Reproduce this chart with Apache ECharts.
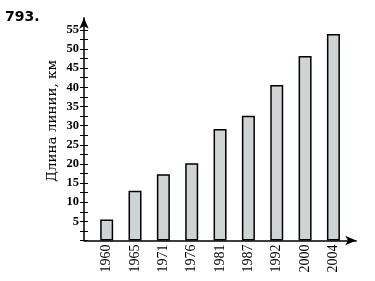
<!DOCTYPE html>
<html>
<head>
<meta charset="utf-8">
<script src="https://cdn.jsdelivr.net/npm/echarts@6/dist/echarts.min.js"></script>
<style>html,body{margin:0;padding:0;background:#fff}#c{width:375px;height:281px}</style>
</head>
<body>
<div id="c"></div>
<script>
var years = ['1960','1965','1971','1976','1981','1987','1992','2000','2004'];
var lengths = [5.5, 13.0, 17.3, 20.2, 29.1, 32.6, 40.6, 48.2, 53.9];
var yTitle = 'Длина линии, км';
var problemNo = '793.';

var chart = echarts.init(document.getElementById('c'), null, {renderer: 'canvas'});
var serif = 'Liberation Serif';
chart.setOption({
  animation: false,
  backgroundColor: '#fff',
  grid: [
    {left: 84, top: 17.8, right: 18.8, bottom: 40.5},
    {left: 92.5, top: 29.85, right: 27.4, bottom: 40.5}
  ],
  xAxis: [
    {gridIndex: 0, type: 'value', min: 0, max: 1,
     axisLine: {show: true, onZero: false, symbol: ['none', 'arrow'], symbolSize: [7, 11], lineStyle: {color: '#000', width: 1.5}},
     axisTick: {show: false}, axisLabel: {show: false}, splitLine: {show: false}},
    {gridIndex: 1, type: 'category', data: years,
     axisLine: {show: false}, axisTick: {show: false}, splitLine: {show: false},
     axisLabel: {rotate: 90, margin: 4, color: '#000', fontFamily: serif, fontSize: 14}}
  ],
  yAxis: [
    {gridIndex: 0, type: 'value', min: 0, max: 1,
     axisLine: {show: true, onZero: false, symbol: ['none', 'arrow'], symbolSize: [7, 11], lineStyle: {color: '#000', width: 1.5}},
     axisTick: {show: false}, axisLabel: {show: false}, splitLine: {show: false}},
    {gridIndex: 1, type: 'value', min: 0, max: 55, interval: 2.5, offset: 8.5, position: 'left',
     axisLine: {show: false}, splitLine: {show: false},
     axisTick: {show: true, length: 4, lineStyle: {color: '#000', width: 1}},
     axisLabel: {margin: 5, color: '#000', fontFamily: serif, fontWeight: 'bold', fontSize: 12.5,
       formatter: function (v) { return (v > 0 && Math.abs(v % 5) < 1e-6) ? String(v) : ''; }}},
    {gridIndex: 1, type: 'value', min: 0, max: 55, interval: 2.5, offset: 8.5, position: 'left',
     axisLine: {show: false}, splitLine: {show: false},
     axisTick: {show: true, inside: true, length: 4, lineStyle: {color: '#000', width: 1}},
     axisLabel: {show: false}}
  ],
  series: [{
    type: 'bar', xAxisIndex: 1, yAxisIndex: 1, data: lengths, barWidth: 13,
    itemStyle: {color: '#cfd3d3', borderColor: '#000', borderWidth: 1.5}
  }],
  graphic: [
    {type: 'text', left: 5, top: 10, style: {text: problemNo, font: 'bold 14px "DejaVu Sans"', fill: '#000'}},
    {type: 'text', x: 52, y: 121, rotation: Math.PI / 2,
     style: {text: yTitle, font: '13.5px "DejaVu Serif"', fill: '#000', align: 'center', verticalAlign: 'middle'}}
  ]
});
</script>
</body>
</html>
